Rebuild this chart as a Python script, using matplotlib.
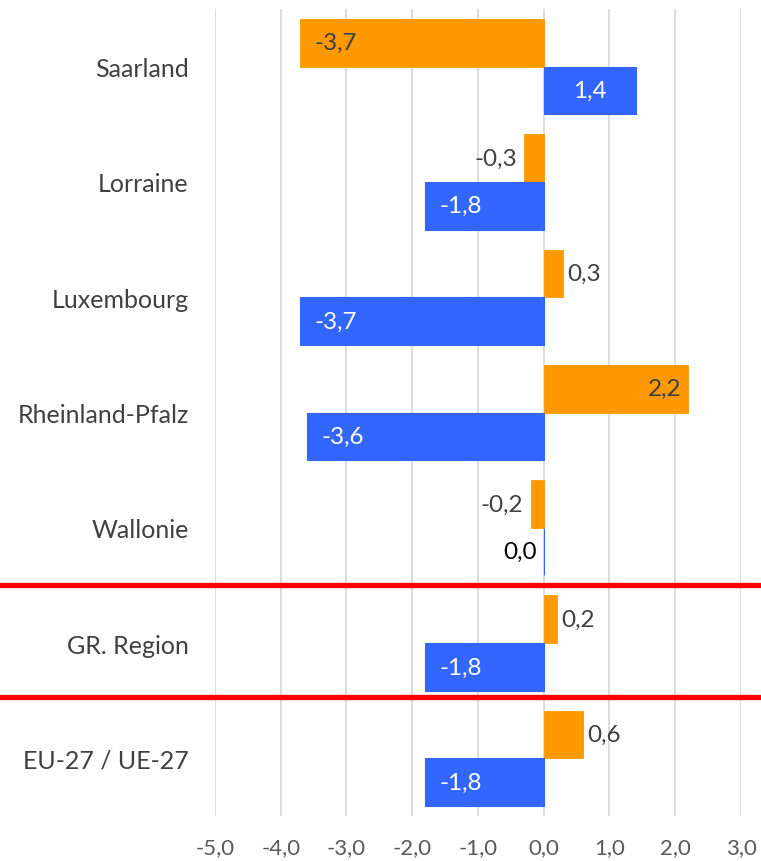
import matplotlib.pyplot as plt
from matplotlib.transforms import blended_transform_factory

plt.rcParams['font.family'] = ['Lato', 'DejaVu Sans']

# Data (top to bottom)
regions = ['Saarland', 'Lorraine', 'Luxembourg', 'Rheinland-Pfalz', 'Wallonie',
           'GR. Region', 'EU-27 / UE-27']
orange_vals = [-3.7, -0.3, 0.3, 2.2, -0.2, 0.2, 0.6]
blue_vals = [1.4, -1.8, -3.7, -3.6, 0.0, -1.8, -1.8]
# where each value label sits: inside end, outside end, or centred
orange_lab = ['in', 'out', 'out', 'in', 'out', 'out', 'out']
blue_lab = ['center', 'in', 'in', 'in', 'out', 'in', 'in']
x_ticks = [-5, -4, -3, -2, -1, 0, 1, 2, 3]
separators = [4.5, 5.47]

orange = '#FF9900'
blue = '#3366FF'
grey_text = '#404040'

fig = plt.figure(figsize=(7.61, 8.62), dpi=100)
ax = fig.add_axes([0.2825, 0.0522, 0.6912, 0.9362])

pos = list(range(len(regions)))
h = 0.413
ax.barh([p - h / 2 for p in pos], orange_vals, height=h, color=orange,
        edgecolor=orange, linewidth=0.6, zorder=3)
ax.barh([p + h / 2 for p in pos], blue_vals, height=h, color=blue,
        edgecolor=blue, linewidth=0.8, zorder=3)


def label_bar(v, y, mode, inside_color):
    txt = f'{v:.1f}'.replace('.', ',')
    color = grey_text
    if mode == 'center':
        ax.annotate(txt, (v / 2, y), ha='center', va='center', fontsize=17.5,
                    color=inside_color, zorder=4)
        return
    if mode == 'in':
        color = inside_color
        if v < 0:
            off, ha = 14, 'left'
        else:
            off, ha = -7, 'right'
    else:
        if v == 0:
            color = 'black'
        if v <= 0:
            off, ha = -7, 'right'
        else:
            off, ha = 4, 'left'
    ax.annotate(txt, (v, y), xytext=(off, 0), textcoords='offset pixels',
                ha=ha, va='center', fontsize=17.5, color=color, zorder=4)


for i in pos:
    label_bar(orange_vals[i], i - h / 2, orange_lab[i], grey_text)
    label_bar(blue_vals[i], i + h / 2, blue_lab[i], 'white')

ax.set_xlim(-5, 3)
ax.set_ylim(len(regions) - 0.5, -0.5)
ax.set_xticks(x_ticks)
ax.set_xticklabels([f'{t:.1f}'.replace('.', ',') for t in x_ticks],
                   fontsize=16, color='#595959')
ax.set_yticks(pos)
ax.set_yticklabels(regions, fontsize=18, color=grey_text)
ax.tick_params(axis='both', length=0)
ax.tick_params(axis='y', pad=19)
ax.tick_params(axis='x', pad=15)
ax.grid(axis='x', color='#d9d9d9', linewidth=1.3, zorder=0)
ax.set_axisbelow(True)
for s in ax.spines.values():
    s.set_visible(False)

# red separator lines across the whole figure width
trans = blended_transform_factory(fig.transFigure, ax.transData)
for y in separators:
    ax.plot([0, 1], [y, y], color='red', linewidth=3.8, transform=trans,
            clip_on=False, zorder=5)

plt.savefig('out.png', dpi=100)
